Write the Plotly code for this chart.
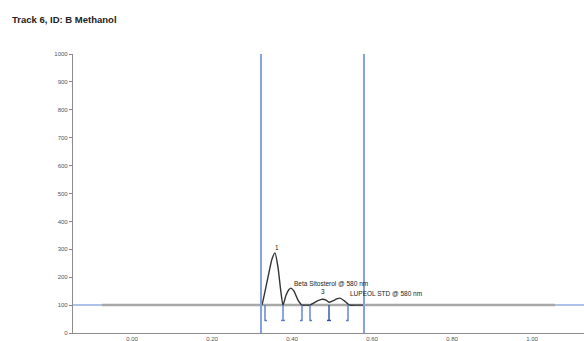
import plotly.graph_objects as go

# Densitogram trace for track 6 (Rf vs. response, AU)
signal_rf = [0.3250, 0.3290, 0.3400, 0.3500, 0.3575, 0.3650, 0.3720, 0.3775,
             0.3850, 0.3920, 0.3975, 0.4050, 0.4150, 0.4250, 0.4350, 0.4450,
             0.4550, 0.4650, 0.4760, 0.4850, 0.4925, 0.5020, 0.5120, 0.5200,
             0.5300, 0.5400, 0.5450, 0.5600, 0.5825]
signal_val = [100, 125, 200, 265, 287, 235, 150, 100,
              135, 155, 161, 150, 118, 100, 100, 100,
              108, 116, 121, 118, 110, 115, 122, 125,
              116, 104, 100, 100, 100]

# Flat baseline of the scan outside the peak window
baseline_rf = [-0.075, 0.325, 0.5825, 1.0575]
baseline_val = [100, 100, 100, 100]

# Integration boundaries (start / max / end marks below the baseline)
bound_rf = [0.3325, 0.3775, 0.4250, 0.4450, 0.4925, 0.5400]
bound_kind = ["start", "mid", "end", "start", "mid", "end"]
bound_color = ["#5b7fcf", "#5b7fcf", "#5b7fcf", "#5b7fcf", "#2f4fa8", "#5b7fcf"]

# Scan window limits
window_rf = [0.3225, 0.5800]

# Peak labels
peak_labels = [
    (0.3615, 305, "1", "center"),
    (0.4000, 178, "Beta Sitosterol @ 580 nm", "left"),
    (0.4770, 148, "3", "center"),
    (0.5400, 140, "LUPEOL STD @ 580 nm", "left"),
]

x_ticks = [0.0, 0.2, 0.4, 0.6, 0.8, 1.0]
x_tick_text = ["0.00", "0.20", "0.40", "0.60", "0.80", "1.00"]
y_ticks = list(range(0, 1001, 100))

fig = go.Figure()

# Reference baseline (blue) across the whole scan
fig.add_trace(go.Scatter(x=[-0.16, 1.14], y=[100, 100], mode="lines",
                         line=dict(color="#93ade3", width=1.5), hoverinfo="skip"))

# Scan baseline (grey)
fig.add_trace(go.Scatter(x=baseline_rf, y=baseline_val, mode="lines",
                         line=dict(color="#a8a8a8", width=2.5), hoverinfo="skip"))

# Peak trace
fig.add_trace(go.Scatter(x=signal_rf, y=signal_val, mode="lines",
                         line=dict(color="#333333", width=1.4, shape="spline", smoothing=0.6),
                         hoverinfo="skip"))

# Window limits
for rf in window_rf:
    fig.add_trace(go.Scatter(x=[rf, rf], y=[0, 1000], mode="lines",
                             line=dict(color="#86a2de", width=2), hoverinfo="skip"))

# Integration boundary marks
serif = 0.005
for rf, kind, col in zip(bound_rf, bound_kind, bound_color):
    if kind == "start":
        xs, ys = [rf, rf, rf + serif], [100, 45, 45]
    elif kind == "end":
        xs, ys = [rf, rf, rf - serif], [100, 45, 45]
    else:
        xs, ys = [rf, rf, None, rf - serif, rf + serif], [100, 45, None, 45, 45]
    fig.add_trace(go.Scatter(x=xs, y=ys, mode="lines",
                             line=dict(color=col, width=1.4), hoverinfo="skip"))

for x, y, text, anchor in peak_labels:
    fig.add_annotation(x=x, y=y, text=text, showarrow=False, xanchor=anchor,
                       yanchor="middle",
                       font=dict(family="Liberation Sans, Arial", size=6.5, color="#222222"))

fig.update_layout(
    width=584, height=341,
    margin=dict(l=73, r=0, t=54, b=8),
    paper_bgcolor="white", plot_bgcolor="white",
    showlegend=False,
    title=dict(text="<b>Track 6, ID: B Methanol</b>", xref="container", yref="container",
               x=12 / 584, xanchor="left", y=1 - 20 / 341, yanchor="middle",
               font=dict(family="Liberation Sans, Arial", size=9.5, color="#222222")),
    xaxis=dict(range=[-0.1475, 1.13], tickvals=x_ticks, ticktext=x_tick_text,
               showgrid=False, zeroline=False, showline=True, linecolor="#8c8c8c",
               linewidth=1, ticks="", ticklen=0,
               tickfont=dict(family="Liberation Sans, Arial", size=6, color="#555555")),
    yaxis=dict(range=[0, 1000], tickvals=y_ticks, showgrid=False, zeroline=False,
               showline=True, linecolor="#8c8c8c", linewidth=1.2,
               ticks="outside", ticklen=3, tickcolor="#8c8c8c",
               tickfont=dict(family="Liberation Sans, Arial", size=6, color="#555555")),
)

fig.write_html("out.html")
